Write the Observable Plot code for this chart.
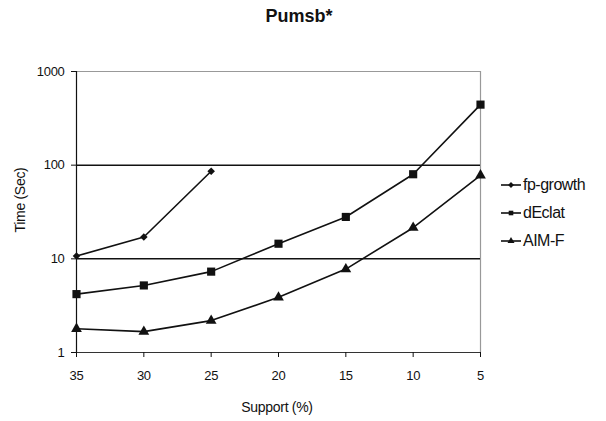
<!DOCTYPE html>
<html><head><meta charset="utf-8">
<script src="https://cdn.jsdelivr.net/npm/d3@7"></script>
<script src="https://cdn.jsdelivr.net/npm/@observablehq/plot@0.6"></script>
<style>
body{margin:0;background:#fff;font-family:"Liberation Sans",Arial,sans-serif;}
#wrap{position:relative;width:606px;height:421px;}
.abs{position:absolute;color:#111;}
#title{left:0;width:598px;top:6px;text-align:center;font-weight:bold;font-size:18px;}
#ylab{left:20px;top:200px;transform:translate(-50%,-50%) rotate(-90deg);font-size:14px;white-space:nowrap;letter-spacing:-0.3px;}
#xlab{left:277px;top:399px;transform:translateX(-50%);font-size:14px;letter-spacing:-0.3px;}
#legend{left:500px;top:171px;font-size:16px;letter-spacing:-0.5px;}
#legend div{display:flex;align-items:center;height:28px;}
#legend svg{margin-right:1px;}
</style></head>
<body><div id="wrap">
<div id="title" class="abs">Pumsb*</div>
<div id="ylab" class="abs">Time (Sec)</div>
<div id="xlab" class="abs">Support (%)</div>
<div id="legend" class="abs"></div>
</div>
<script>
const support = [35, 30, 25, 20, 15, 10, 5];
const fpGrowth = [10.7, 17.1, 86];
const dEclat = [4.2, 5.2, 7.3, 14.5, 28, 80, 443];
const aimF = [1.79, 1.67, 2.19, 3.88, 7.77, 21.5, 78];
const seriesNames = ["fp-growth", "dEclat", "AIM-F"];
const seriesSymbols = ["diamond2", "square", "triangle"];
const seriesR = [3.4, 4.6, 4];
const yTicks = [1, 10, 100, 1000];

const allSeries = [fpGrowth, dEclat, aimF];
const data = allSeries.flatMap((vals, i) => vals.map((v, j) => ({x: support[j], y: v, s: seriesNames[i], k: i})));

const marks = [
  Plot.ruleY([1000], {stroke: "#999", strokeWidth: 1.2}),
  Plot.ruleX([5], {stroke: "#999", strokeWidth: 1.2}),
  Plot.ruleY([10, 100], {stroke: "#111", strokeWidth: 1.5}),
  Plot.ruleY([1], {stroke: "#333", strokeWidth: 1.2}),
  Plot.ruleX([35], {stroke: "#111", strokeWidth: 1.2}),
  Plot.axisY({ticks: yTicks, tickFormat: d => String(d), tickSize: 5, tickPadding: 7, label: null, fontSize: 13, stroke: "#111"}),
  Plot.axisX({ticks: support, tickFormat: d => String(d), tickSize: 5, tickPadding: 13, label: null, fontSize: 13}),
];
seriesNames.forEach((name, i) => {
  const d = data.filter(e => e.k === i);
  marks.push(Plot.line(d, {x: "x", y: "y", stroke: "#111", strokeWidth: 1.6}));
  marks.push(Plot.dot(d, {x: "x", y: "y", symbol: () => seriesSymbols[i], r: seriesR[i], fill: "#111", stroke: "none"}));
});

const chart = Plot.plot({
  width: 606, height: 421,
  marginLeft: 76, marginRight: 126, marginTop: 71, marginBottom: 69,
  style: {fontFamily: "Liberation Sans, Arial, sans-serif", color: "#111", background: "transparent", letterSpacing: "-0.3px"},
  x: {type: "linear", domain: [35, 5]},
  y: {type: "log", domain: [1, 1000]},
  symbol: {type: "identity"},
  marks
});
chart.style.position = "absolute";
chart.style.left = "0";
chart.style.top = "0";
document.getElementById("wrap").prepend(chart);

const leg = document.getElementById("legend");
seriesNames.forEach((name, i) => {
  const row = document.createElement("div");
  const sym = d3.symbol().type({diamond2: d3.symbolDiamond2, square: d3.symbolSquare, triangle: d3.symbolTriangle}[seriesSymbols[i]]).size(Math.PI * 2.6 * 2.6)();
  row.innerHTML = `<svg width="22" height="14"><line x1="1" x2="21" y1="7" y2="7" stroke="#111" stroke-width="1.6"/><path d="${sym}" transform="translate(11,7)" fill="#111"/></svg><span>${name}</span>`;
  leg.appendChild(row);
});
</script>
</body></html>
